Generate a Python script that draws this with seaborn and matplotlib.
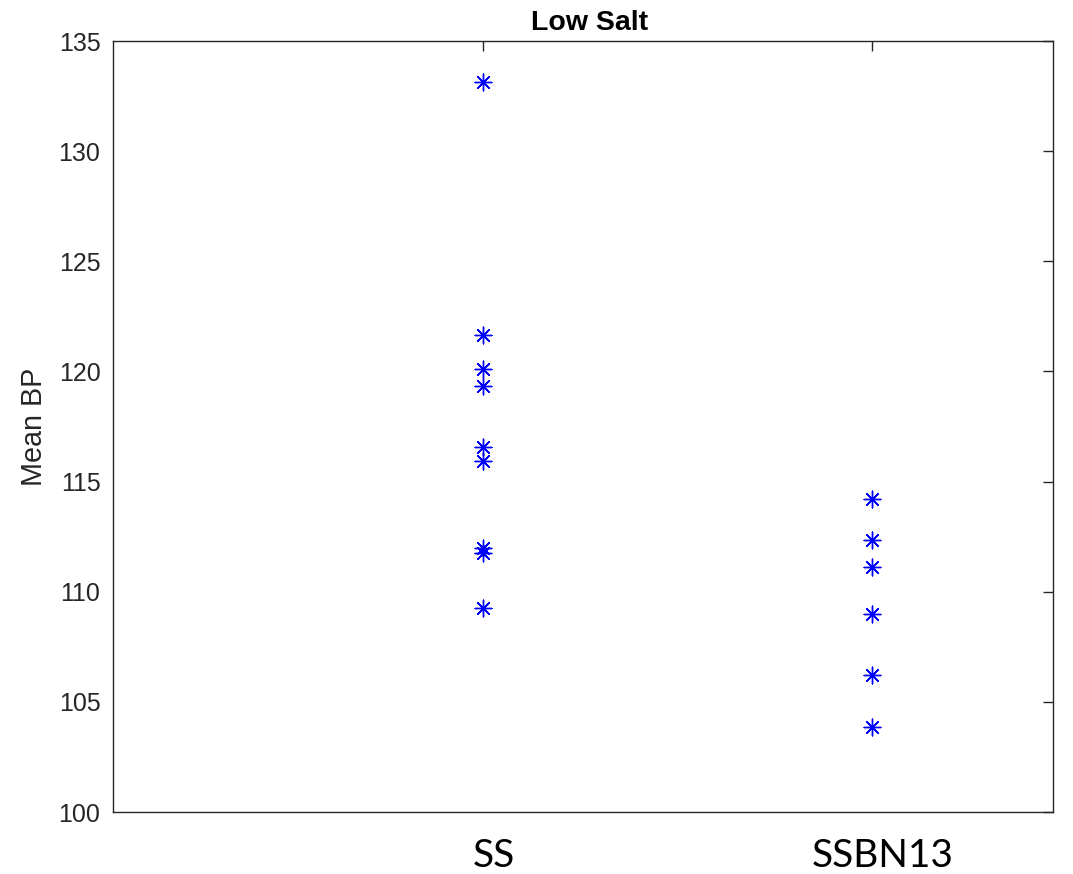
import matplotlib
matplotlib.use('Agg')
import matplotlib.pyplot as plt
import matplotlib.transforms as mtransforms
import numpy as np
import pandas as pd
import seaborn as sns

# mean blood pressure per strain, low salt diet
groups = ['SS', 'SSBN13']
ss_bp = [133.14, 121.65, 120.11, 119.34, 116.57, 115.94, 111.99, 111.76, 109.26]
ssbn13_bp = [114.21, 112.35, 111.12, 108.99, 106.22, 103.86]
y_ticks = [100, 105, 110, 115, 120, 125, 130, 135]

df = pd.DataFrame({
    'strain': [groups[0]]*len(ss_bp) + [groups[1]]*len(ssbn13_bp),
    'bp': ss_bp + ssbn13_bp,
})

sns.set_style('white')
plt.rcParams['font.family'] = ['Liberation Sans', 'DejaVu Sans']
axcol = '#262626'

fig = plt.figure(figsize=(10.73, 8.74), dpi=100)
ax = fig.add_axes([113/1073, 1-812/874, 940/1073, 771/874])

# MATLAB style '*' marker -> 8 armed asterisk
sns.stripplot(data=df, x='strain', y='bp', order=groups, jitter=False,
              marker=(8, 2, 0), size=12, color='#0000ff', linewidth=1.0,
              ax=ax)

ax.set_xlim(-0.951, 1.465)
ax.set_ylim(100, 135)
ax.set_yticks(y_ticks)
ax.set_xlabel('')
ax.set_ylabel('Mean BP', fontsize=20.7, color=axcol, labelpad=8)

for sp in ax.spines.values():
    sp.set_visible(True)
    sp.set_color(axcol)
    sp.set_linewidth(1.0)

ax.tick_params(axis='both', direction='in', length=7, width=1.0, color=axcol,
               top=True, right=True, labelcolor=axcol)
ax.tick_params(axis='y', labelsize=18, pad=9)
ax.tick_params(axis='x', pad=19)
# category labels sit a bit right of their ticks in the original
shift = mtransforms.ScaledTranslation(11/100, 0, fig.dpi_scale_trans)
for lbl in ax.get_xticklabels():
    lbl.set_fontfamily('Lato')
    lbl.set_fontsize(28)
    lbl.set_color('black')
    lbl.set_transform(lbl.get_transform() + shift)

fig.text(590/1073, 1-30/874, 'Low Salt', ha='center', va='baseline',
         fontsize=20.5, fontweight='bold', color='black')

plt.savefig('out.png', dpi=100)
